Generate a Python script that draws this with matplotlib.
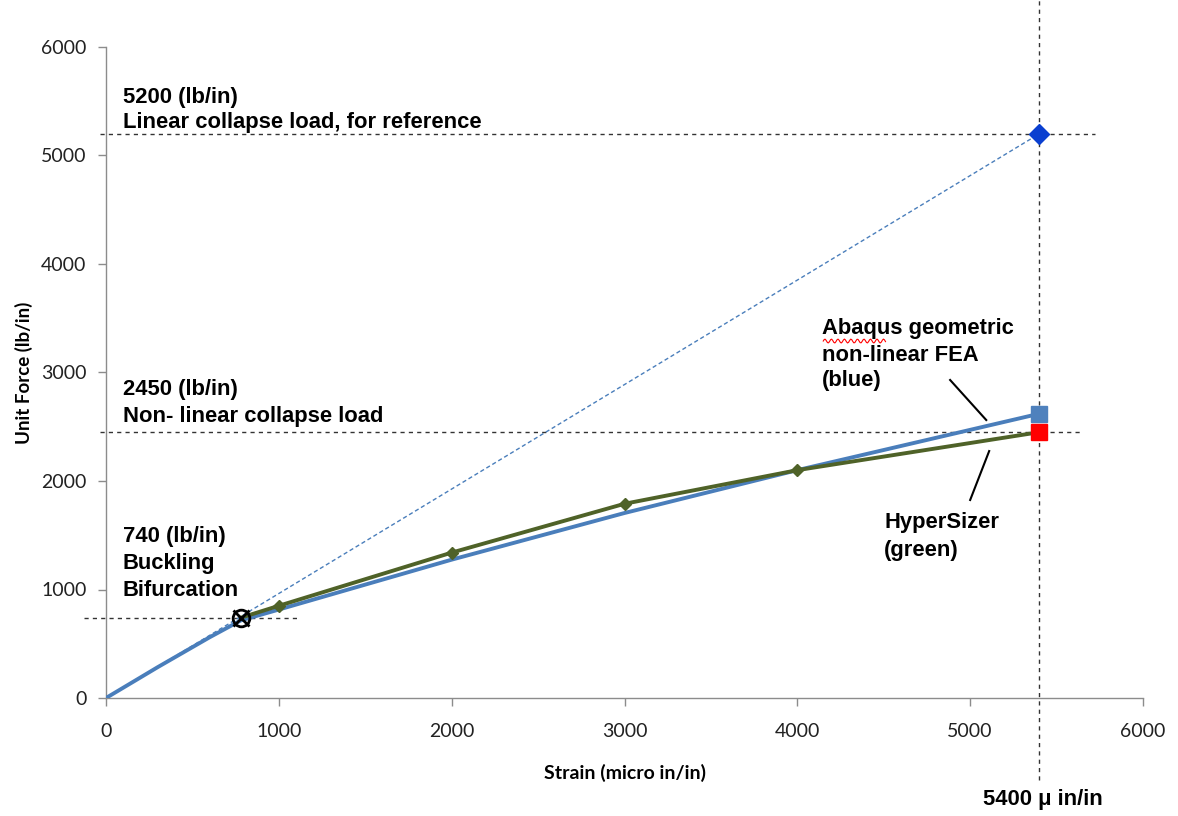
import numpy as np
import matplotlib.pyplot as plt

# HyperSizer (green) and Abaqus geometric non-linear FEA (blue) load-strain curves
green_strain = [780, 1000, 2000, 3000, 4000, 5400]
green_force = [740, 850, 1340, 1790, 2100, 2450]

blue_strain = [0, 300, 600, 780, 1000, 2000, 3000, 4000, 5400]
blue_force = [0, 285, 560, 715, 815, 1275, 1705, 2100, 2620]

# key loads
bifurcation = (780, 740)
linear_collapse = (5400, 5200)
nonlinear_collapse = 2450
collapse_strain = 5400

x_ticks = [0, 1000, 2000, 3000, 4000, 5000, 6000]
y_ticks = [0, 1000, 2000, 3000, 4000, 5000, 6000]

BLUE = "#4a7ebb"
GREEN = "#4f6228"
TXT = "Liberation Sans"
TICKF = "Lato"

fig = plt.figure(figsize=(11.78, 8.16), dpi=100)
ax = fig.add_axes([106 / 1178, 118 / 816, 1037 / 1178, 651 / 816])
ax.set_xlim(0, 6000)
ax.set_ylim(0, 6000)

for s in ("top", "right"):
    ax.spines[s].set_visible(False)
for s in ("left", "bottom"):
    ax.spines[s].set_color("#8c8c8c")
    ax.spines[s].set_linewidth(1.0)

ax.set_xticks(x_ticks)
ax.set_yticks(y_ticks)
ax.tick_params(axis="both", direction="out", length=6, width=1.0, color="#8c8c8c",
               labelsize=14, labelcolor="#222222", pad=8)
for lab in ax.get_xticklabels() + ax.get_yticklabels():
    lab.set_fontfamily(TICKF)
ax.tick_params(axis="x", pad=12)

ax.set_xlabel("Strain (micro in/in)", fontsize=14, fontweight="bold", family=TICKF,
              labelpad=17)
ax.set_ylabel("Unit Force (lb/in)", fontsize=13.5, fontweight="bold", family=TICKF,
              labelpad=6)

# reference dashed lines (extend past the axes)
dash = dict(color="#333333", lw=1.0, ls=(0, (3, 3)), clip_on=False, zorder=2)
ax.plot([-35, 5720], [linear_collapse[1]] * 2, **dash)
ax.plot([-35, 5650], [nonlinear_collapse] * 2, **dash)
ax.plot([-125, 1125], [bifurcation[1]] * 2, **dash)
ax.plot([collapse_strain] * 2, [-760, 6430], **dash)

# linear collapse reference line
ax.plot([0, linear_collapse[0]], [0, linear_collapse[1]], color=BLUE, lw=1.0,
        ls=(0, (3, 2)), zorder=3)

# curves
ax.plot(blue_strain, blue_force, color=BLUE, lw=2.8, zorder=4,
        solid_capstyle="round")
ax.plot(green_strain, green_force, color=GREEN, lw=2.8, zorder=5, marker="D",
        ms=6, markevery=[1, 2, 3, 4])

# end markers
ax.plot(collapse_strain, blue_force[-1], marker="s", ms=11, color="#4f81bd",
        zorder=6, clip_on=False)
ax.plot(collapse_strain, green_force[-1], marker="s", ms=11, color="#ff0000",
        zorder=6, clip_on=False)
ax.plot(*linear_collapse, marker="D", ms=10, color="#0a3fd0", zorder=6,
        clip_on=False)

# bifurcation marker
ax.plot(*bifurcation, marker="o", ms=12, mfc="none", mec="black", mew=2, zorder=7)
ax.plot(*bifurcation, marker="x", ms=12, mec="black", mew=2, zorder=7)

# annotation text blocks
tk = dict(fontsize=15.8, fontweight="bold", family=TXT, va="center", ha="left",
          color="black", clip_on=False)
blocks = [
    (98, [5530, 5300], ["5200 (lb/in)", "Linear collapse load, for reference"]),
    (98, [2839, 2599], ["2450 (lb/in)", "Non- linear collapse load"]),
    (98, [1484, 1244, 995], ["740 (lb/in)", "Buckling", "Bifurcation"]),
    (4144, [3410, 3161, 2922], ["Abaqus geometric", "non-linear FEA", "(blue)"]),
    (4502, [1613, 1364], ["HyperSizer", "(green)"]),
    (5075, [-940], ["5400 \u03bc in/in"]),
]
for x0, ys, lines in blocks:
    for yy, s in zip(ys, lines):
        ax.text(x0, yy, s, **tk)

# spell-check squiggle under "Abaqus"
sx = np.linspace(4150, 4510, 60)
sy = 3290 + 18 * np.sin(np.linspace(0, 60, 60))
ax.plot(sx, sy, color="red", lw=0.8, clip_on=False)

# leader lines
ax.plot([4884, 5093], [2931, 2562], color="black", lw=1.5, zorder=6)
ax.plot([5110, 5000], [2276, 1825], color="black", lw=1.5, zorder=6)

fig.savefig("out.png", dpi=100)
